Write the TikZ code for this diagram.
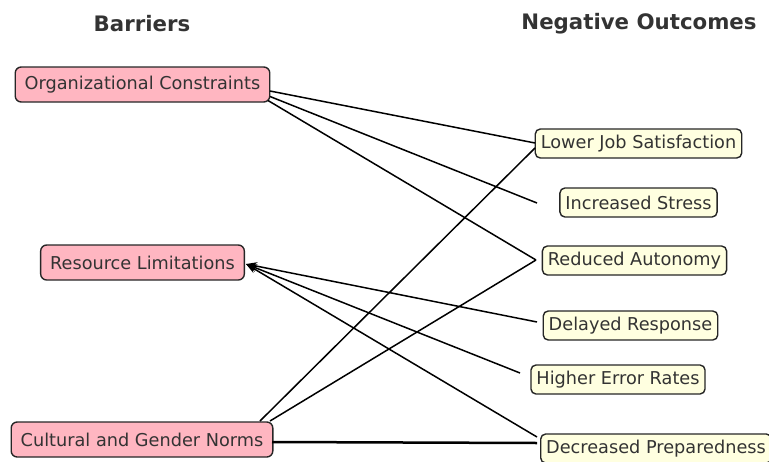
\documentclass[tikz,border=0pt]{standalone}
\usepackage{fontspec}
\setmainfont{DejaVu Sans}
\usepackage{tikz}
\usetikzlibrary{arrows.meta}
\definecolor{barrierpink}{HTML}{FFB6C1}
\definecolor{outcomeyellow}{HTML}{FFFFE0}
\definecolor{labelgray}{HTML}{333333}
\begin{document}
\begin{tikzpicture}[x=1pt,y=-1pt]
                      \tikzstyle{barrier}=[draw=black!85,fill=barrierpink,line width=1.4pt,rounded corners=6pt,inner xsep=9.5pt,inner ysep=0pt,minimum height=35pt,text=labelgray,font=\fontsize{17.7}{20}\selectfont]
                      \tikzstyle{outcome}=[draw=black!85,fill=outcomeyellow,line width=1.4pt,rounded corners=5pt,inner xsep=5.5pt,inner ysep=0pt,minimum height=29pt,text=labelgray,font=\fontsize{17.7}{20}\selectfont]
                      \tikzstyle{heading}=[text=labelgray,font=\bfseries\fontsize{21.3}{24}\selectfont]
                      \tikzstyle{link}=[line width=1.5pt,black]
                      \tikzstyle{into}=[link,-{Stealth[length=11pt,width=8pt]}]
                      \useasboundingbox (0,0) rectangle (769,461);
                      % column titles
                      \node [heading] (hb) at (142,24) {Barriers};
                      \node [heading] (ho) at (639,24) {Negative Outcomes};
                      % barriers
                      \node [barrier] (oc) at (142.5,84.5) {Organizational Constraints};
                      \node [barrier] (rl) at (142.5,262.5) {Resource Limitations};
                      \node [barrier] (cg) at (142,439.5) {Cultural and Gender Norms};
                      % outcomes
                      \node [outcome] (ljs) at (638.5,143.5) {Lower Job Satisfaction};
                      \node [outcome] (is) at (638.5,202.5) {Increased Stress};
                      \node [outcome] (ra) at (634.5,260.5) {Reduced Autonomy};
                      \node [outcome] (dr) at (630.5,325.5) {Delayed Response};
                      \node [outcome] (her) at (618,379.5) {Higher Error Rates};
                      \node [outcome,anchor=west] (dp) at (540,448.5) {Decreased Preparedness};
                      % edge ends
                      \coordinate (oc1) at (270,91);
                      \coordinate (oc2) at (270,96.5);
                      \coordinate (oc3) at (268,100.5);
                      \coordinate (rlin) at (246,264);
                      \coordinate (cg1) at (260,421);
                      \coordinate (cg2) at (270,421);
                      \coordinate (cg3) at (272,442);
                      \coordinate (ljs1) at (535,143);
                      \coordinate (ljs2) at (535,148);
                      \coordinate (is1) at (537,203);
                      \coordinate (ra1) at (536,260);
                      \coordinate (dr1) at (537,322);
                      \coordinate (her1) at (520,373);
                      \coordinate (dp1) at (537,437);
                      \coordinate (dp2) at (537,443);
                      \draw [link] (oc1) -- (ljs1);
                      \draw [link] (oc2) -- (is1);
                      \draw [link] (oc3) -- (ra1);
                      \draw [into] (dr1) -- (rlin);
                      \draw [into] (her1) -- (rlin);
                      \draw [into] (dp1) -- (rlin);
                      \draw [link] (cg1) -- (ljs2);
                      \draw [link] (cg2) -- (ra1);
                      \draw [link,line width=2.5pt] (cg3) -- (dp2);
                  \end{tikzpicture}
\end{document}
